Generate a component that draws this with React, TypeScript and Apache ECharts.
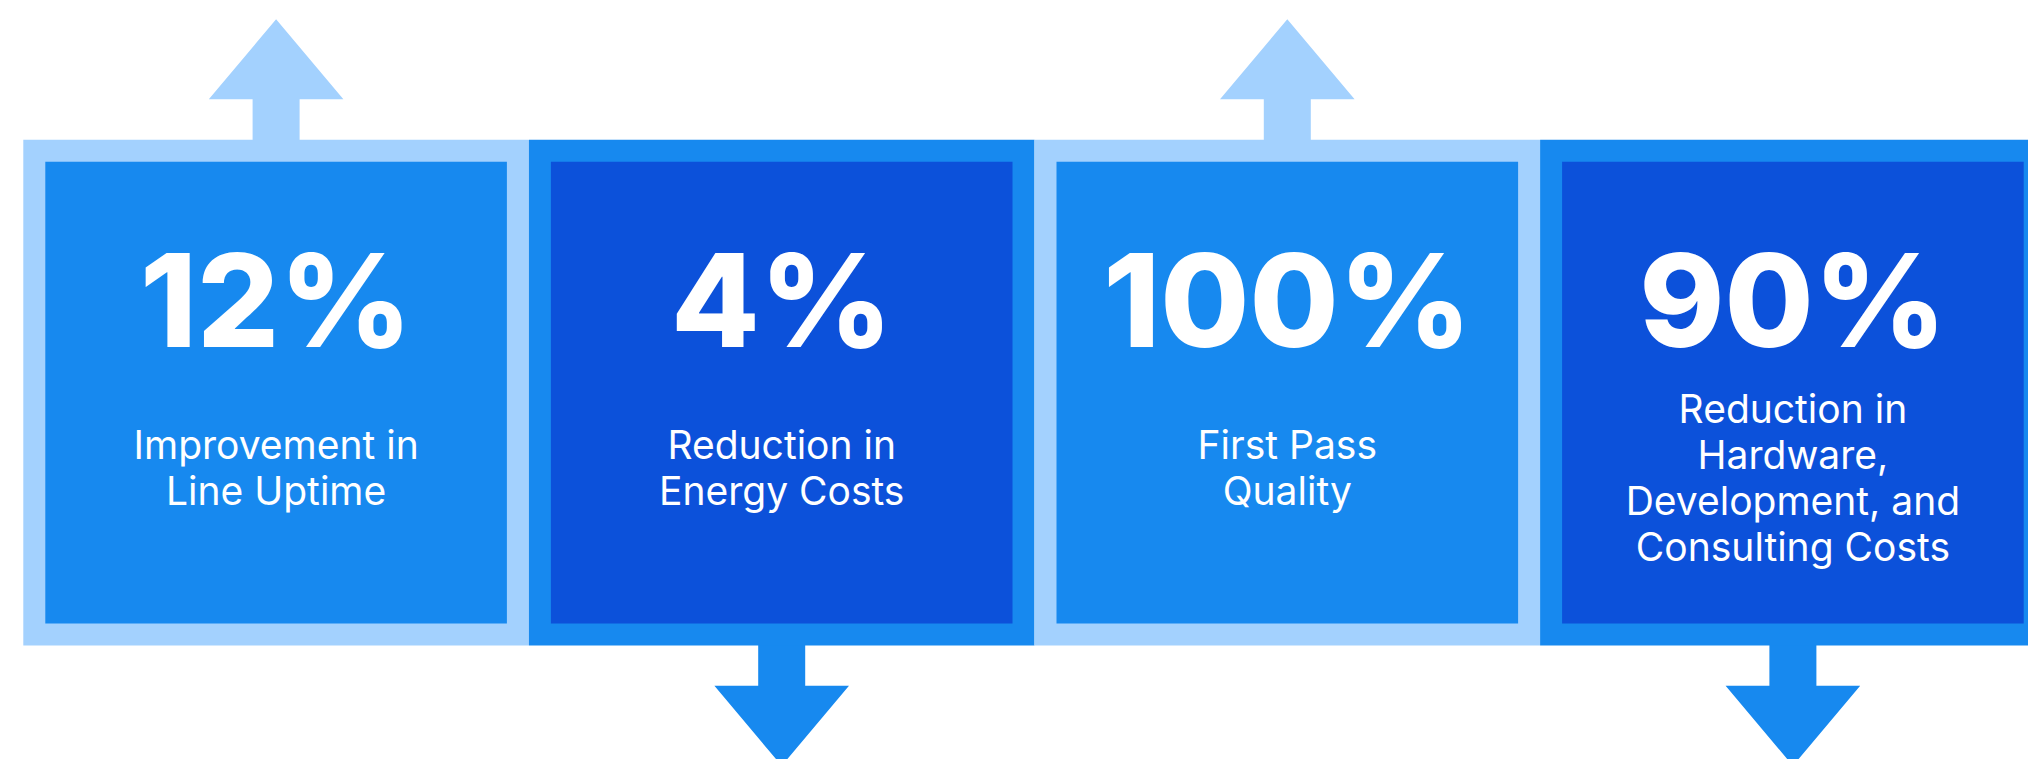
import React, { useEffect, useRef } from "react";
import * as echarts from "echarts";

// ---- data ----
const categories = ["Line Uptime", "Energy Costs", "First Pass Quality", "Hardware, Development, and Consulting Costs"];
const values = [12, 4, 100, 90];
const valueLabels = ["12%", "4%", "100%", "90%"];
const descriptions = [
  "Improvement in\nLine Uptime",
  "Reduction in\nEnergy Costs",
  "First Pass\nQuality",
  "Reduction in\nHardware,\nDevelopment, and\nConsulting Costs",
];
const directions = ["up", "down", "up", "down"];

// ---- style ----
const LIGHT = "#A3D1FE";
const MID = "#1789EF";
const DARK = "#0C51DA";
const FONT = "Inter, 'Noto Sans', sans-serif";

const GRID_LEFT = 23.3;
const BOX_W = 505.6;
const CHART_W = 2028;
const BOX_TOP = 139.7;
const BOX_H = 505.7;
const BORDER = 22;
const SHAFT_W = 47;
const SHAFT_L = 40.4;
const HEAD_W = 134.6;
const HEAD_H = 80;

export default function App() {
  const ref = useRef<HTMLDivElement>(null);
  useEffect(() => {
    if (!ref.current) return;
    const chart = echarts.init(ref.current, null, { renderer: "svg" });
    const renderItem = (params: any, api: any) => {
      const i = params.dataIndex;
      const cx = api.coord([api.value(0), 0])[0];
      const bw = api.size([1, 0])[0];
      const odd = i % 2 === 1;
      const outer = odd ? MID : LIGHT;
      const inner = odd ? DARK : MID;
      const x0 = cx - bw / 2;
      const boxBottom = BOX_TOP + BOX_H;
      let pts: number[][];
      if (directions[i] === "up") {
        const sb = BOX_TOP + 1;
        const hb = BOX_TOP - SHAFT_L;
        const tip = hb - HEAD_H;
        pts = [
          [cx - SHAFT_W / 2, sb], [cx - SHAFT_W / 2, hb], [cx - HEAD_W / 2, hb], [cx, tip],
          [cx + HEAD_W / 2, hb], [cx + SHAFT_W / 2, hb], [cx + SHAFT_W / 2, sb],
        ];
      } else {
        const sb = boxBottom - 1;
        const hb = boxBottom + SHAFT_L;
        const tip = hb + HEAD_H;
        pts = [
          [cx - SHAFT_W / 2, sb], [cx - SHAFT_W / 2, hb], [cx - HEAD_W / 2, hb], [cx, tip],
          [cx + HEAD_W / 2, hb], [cx + SHAFT_W / 2, hb], [cx + SHAFT_W / 2, sb],
        ];
      }
      const lines = descriptions[i].split("\n").length;
      const labelTop = 421.2 - (lines - 2) * 18;
      return {
        type: "group",
        children: [
          { type: "polygon", shape: { points: pts }, style: { fill: outer } },
          { type: "rect", shape: { x: x0, y: BOX_TOP, width: bw, height: BOX_H }, style: { fill: outer } },
          {
            type: "rect",
            shape: { x: x0 + BORDER, y: BOX_TOP + BORDER, width: bw - 2 * BORDER, height: BOX_H - 2 * BORDER },
            style: { fill: inner },
          },
          {
            type: "text",
            x: cx,
            y: 300.3,
            style: {
              text: valueLabels[i],
              fill: "#FFFFFF",
              fontSize: 129,
              fontWeight: 800,
              fontFamily: FONT,
              align: "center",
              verticalAlign: "middle",
            },
          },
          {
            type: "text",
            x: cx,
            y: labelTop,
            style: {
              text: descriptions[i],
              fill: "#FFFFFF",
              fontSize: 39,
              lineHeight: 46,
              fontWeight: 400,
              fontFamily: FONT,
              align: "center",
              verticalAlign: "top",
            },
          },
        ],
      };
    };
    const gridW = CHART_W - GRID_LEFT;
    const span = gridW / BOX_W;
    chart.setOption({
      animation: false,
      grid: { left: GRID_LEFT, top: 0, right: 0, bottom: 0 },
      xAxis: { type: "value", show: false, min: -0.5, max: -0.5 + span, scale: true },
      yAxis: { type: "value", show: false, min: 0, max: 100 },
      series: [
        {
          type: "custom",
          name: "Improvements",
          data: values.map((v, i) => ({ name: categories[i], value: [i, v] })),
          encode: { x: 0, y: 1 },
          clip: false,
          renderItem,
        },
      ],
    });
    return () => chart.dispose();
  }, []);
  return (
    <div
      ref={ref}
      style={{ position: "absolute", left: 0, top: 0, width: CHART_W, height: 759, background: "#FFFFFF" }}
    />
  );
}
